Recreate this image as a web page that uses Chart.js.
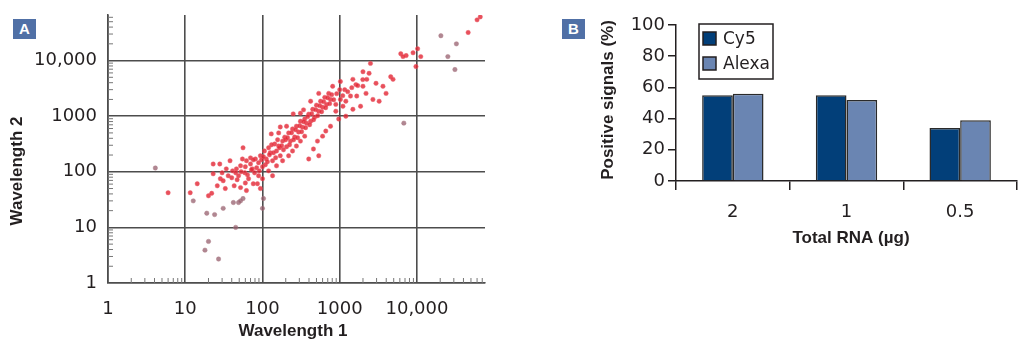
<!DOCTYPE html>
<html>
<head>
<meta charset="utf-8">
<script src="https://cdn.jsdelivr.net/npm/chart.js@4.4.1/dist/chart.umd.min.js"></script>
<style>
    body { margin: 0; background: #fff; width: 1018px; height: 344px; position: relative; overflow: hidden; }
    #chartA { position: absolute; left: 0; top: 0; }
    #chartB { position: absolute; left: 540px; top: 0; }
    .badge { position: absolute; top: 19px; width: 23px; height: 20px; background: #5070a6; color: #fff;
             font: bold 15px "Liberation Sans", sans-serif; text-align: center; line-height: 20px; }
</style>
</head>
<body>
<canvas id="chartA" width="530" height="344"></canvas>
<canvas id="chartB" width="478" height="344"></canvas>
<div class="badge" style="left:13px">A</div>
<div class="badge" style="left:562px">B</div>
<script>
// Panel A - scatter, log/log
const logTickValues = [1, 10, 100, 1000, 10000];
const logTickLabels = ['1', '10', '100', '1000', '10,000'];

const wavelength1 = [
    41, 46, 52, 49, 59, 62, 70, 74, 66, 81, 89, 94, 100, 106, 112, 120, 126, 135, 144, 152, 162, 170, 182, 194,
    205, 218, 230, 245, 261, 275, 293, 310, 330, 352, 372, 397, 420, 447, 473, 500, 535, 565, 600, 640, 676, 720, 760,
    2500, 2400, 2240, 2000, 1620, 1380, 1200, 1020, 890, 1160, 1660, 2190, 2950, 4570, 3630, 3980, 3240, 2690, 1860,
    1480, 1200, 970, 760, 660, 515, 600, 890, 1100, 457, 535, 397,
    6170, 7240, 8900, 10200, 6600, 11200, 9700, 4900, 60000, 66000, 46000,
    36, 38, 34, 30, 55, 79, 89, 60, 43, 100, 120, 135, 152, 182, 218, 245, 275, 310, 352, 205, 162, 310, 420, 535,
    810, 1020, 1480, 2000,
    23, 28, 23, 14.3, 20, 22, 26, 28.5, 31, 33, 45, 70, 86, 94, 56, 62, 76, 130, 170, 250, 340, 52, 11.6, 6,
    40, 47, 53, 60, 64, 72, 76, 84, 91, 97, 103, 109, 116, 123, 131, 139, 148, 157, 166, 177, 187, 199, 211, 224,
    238, 253, 268, 285, 303, 321, 341, 362, 384, 408, 433, 459, 488, 518, 550, 583, 619, 658, 698, 741, 787, 836,
    914, 1000, 1094, 1270, 1432, 1714, 1990
];
const wavelength2 = [
    104, 113, 128, 85, 96, 158, 138, 113, 75, 170, 145, 194, 123, 237, 170, 270, 220, 158, 316, 237, 290, 194, 356, 420,
    282, 500, 356, 590, 422, 660, 520, 810, 635, 890, 750, 1090, 810, 1330, 960, 1580, 1230, 1860, 1450, 2180, 1630, 2570, 2000,
    8900, 5900, 4600, 3450, 3700, 2300, 1860, 2000, 1630, 3000, 2300, 2570, 3900, 5130, 3450, 2570, 1860, 2000, 1510,
    1330, 1000, 890, 660, 540, 356, 437, 1230, 1510, 257, 194, 170,
    13300, 12300, 13800, 16300, 11800, 11800, 7800, 4600, 54000, 61000, 32000,
    85, 158, 113, 96, 170, 96, 85, 63, 56, 75, 104, 85, 128, 158, 194, 237, 290, 356, 437, 660, 500, 1130, 1860, 2570,
    3450, 4200, 4600, 6300,
    138, 138, 92, 61, 37, 41, 56, 75, 69, 50, 96, 178, 61, 50, 270, 46, 61, 480, 640, 1100, 1300, 52, 42, 42,
    78, 72, 100, 123, 88, 109, 164, 118, 104, 164, 186, 134, 151, 202, 306, 220, 179, 377, 271, 294, 249, 377, 410, 306,
    504, 377, 571, 410, 674, 526, 796, 621, 980, 703, 1110, 865, 1310, 1020, 1545, 1205, 1825, 1420, 2150, 1680, 2440, 1980,
    2540, 3000, 2340, 2760, 3260, 3550, 4550
];
// weaker, greyish spots
const weak1 = [4.1, 18, 20, 27, 19, 24, 45, 12.7, 31, 42, 49, 56, 52, 103, 100, 6760, 20400, 32400, 25100, 31000];
const weak2 = [117, 3.9, 5.6, 2.7, 18, 17, 10, 30, 22, 28, 28, 33, 30, 33, 22, 750, 28000, 20000, 11800, 6900];

// Panel B - bars
const rnaAmounts = ['2', '1', '0.5'];
const cy5Values = [55, 55, 34];
const alexaValues = [56, 52, 39];

const textColor = '#231f20';
const gridColor = '#4d4d4d';

const axisTitles = {
    id: 'axisTitles',
    afterDraw(chart, args, opts) {
        const ctx = chart.ctx;
        for (const t of opts.items || []) {
            ctx.save();
            ctx.translate(t.x, t.y);
            if (t.rotate) ctx.rotate(-Math.PI / 2);
            ctx.font = 'bold 17px "Liberation Sans", sans-serif';
            ctx.fillStyle = textColor;
            ctx.textAlign = 'center';
            ctx.textBaseline = 'middle';
            ctx.fillText(t.text, 0, 0);
            ctx.restore();
        }
    }
};

// short inside ticks between the decades
const minorTicks = {
    id: 'minorTicks',
    beforeDatasetsDraw(chart) {
        const { ctx, chartArea, scales: { x, y } } = chart;
        ctx.save();
        ctx.strokeStyle = '#777';
        ctx.lineWidth = 1;
        ctx.beginPath();
        for (const d of logTickValues) {
            for (let m = 2; m < 10; m++) {
                const v = d * m;
                if (v < x.max) {
                    const px = x.getPixelForValue(v);
                    ctx.moveTo(px, chartArea.bottom);
                    ctx.lineTo(px, chartArea.bottom - 5);
                }
                if (v < y.max) {
                    const py = y.getPixelForValue(v);
                    ctx.moveTo(chartArea.left, py);
                    ctx.lineTo(chartArea.left + 5, py);
                }
            }
        }
        ctx.stroke();
        ctx.restore();
    }
};

const boxLegend = {
    id: 'boxLegend',
    afterDraw(chart, args, o) {
        const ctx = chart.ctx;
        ctx.save();
        ctx.fillStyle = '#fff';
        ctx.fillRect(o.x, o.y, o.w, o.h);
        ctx.strokeStyle = textColor;
        ctx.lineWidth = 1.5;
        ctx.strokeRect(o.x, o.y, o.w, o.h);
        chart.data.datasets.forEach((ds, i) => {
            const cy = o.y + 14.5 + i * 25;
            ctx.fillStyle = ds.backgroundColor;
            ctx.fillRect(o.x + 4, cy - 6.5, 13, 13);
            ctx.strokeRect(o.x + 4, cy - 6.5, 13, 13);
            ctx.fillStyle = textColor;
            ctx.font = '17px "DejaVu Sans", sans-serif';
            ctx.textBaseline = 'middle';
            ctx.fillText(ds.label, o.x + 24, cy + 1);
        });
        ctx.restore();
    }
};

const tickFont = { family: '"DejaVu Sans", sans-serif', size: 18 };

function logAxis(pos, max, fitFn) {
    const horizontal = pos === 'bottom';
    return {
        type: 'logarithmic',
        position: pos,
        min: 1,
        max: max,
        afterBuildTicks: s => { s.ticks = logTickValues.map(v => ({ value: v })); },
        afterFit: fitFn,
        ticks: {
            callback: (v, i) => logTickLabels[i],
            color: textColor,
            font: tickFont,
            padding: horizontal ? 16 : 1,
            autoSkip: false,
            maxRotation: 0
        },
        // invisible tick marks only push the labels away from the axis
        grid: { color: gridColor, lineWidth: 1.6, drawTicks: !horizontal, tickLength: 10, tickColor: 'rgba(0,0,0,0)' },
        border: { color: gridColor, width: 1.6 }
    };
}

new Chart(document.getElementById('chartA'), {
    type: 'scatter',
    data: {
        datasets: [
            {
                label: 'spots',
                data: wavelength1.map((v, i) => ({ x: v, y: wavelength2[i] })),
                backgroundColor: 'rgba(226, 36, 50, 0.8)',
                borderColor: 'rgba(235, 90, 105, 0.45)',
                borderWidth: 1,
                pointRadius: 2.2
            },
            {
                label: 'weak',
                data: weak1.map((v, i) => ({ x: v, y: weak2[i] })),
                backgroundColor: 'rgba(150, 95, 110, 0.75)',
                borderColor: 'rgba(170, 120, 130, 0.45)',
                borderWidth: 1,
                pointRadius: 2.2
            }
        ]
    },
    options: {
        responsive: false,
        animation: false,
        layout: { padding: { top: 15, right: 45, left: 0, bottom: 0 } },
        scales: {
            x: logAxis('bottom', 76000, s => { s.height = 61; }),
            y: logAxis('left', 66000, s => { s.width = 108; })
        },
        plugins: {
            legend: { display: false },
            tooltip: { enabled: false },
            axisTitles: { items: [
                { text: 'Wavelength 2', x: 17, y: 171, rotate: true },
                { text: 'Wavelength 1', x: 293, y: 331 }
            ] }
        }
    },
    plugins: [minorTicks, axisTitles]
});

new Chart(document.getElementById('chartB'), {
    type: 'bar',
    data: {
        labels: rnaAmounts,
        datasets: [
            { label: 'Cy5', data: cy5Values, backgroundColor: '#023f79', borderColor: '#2a2a2a', borderWidth: 1.5 },
            { label: 'Alexa', data: alexaValues, backgroundColor: '#6a85b2', borderColor: '#2a2a2a', borderWidth: 1.5 }
        ]
    },
    options: {
        responsive: false,
        animation: false,
        layout: { padding: { top: 25, right: 1, left: 0, bottom: 0 } },
        datasets: { bar: { categoryPercentage: 0.54, barPercentage: 1.0 } },
        scales: {
            x: {
                afterFit: s => { s.height = 163; },
                ticks: { color: textColor, font: tickFont, padding: 12 },
                grid: { offset: true, drawOnChartArea: false, tickLength: 9, color: textColor, lineWidth: 1.5 },
                border: { color: textColor, width: 1.5 }
            },
            y: {
                min: 0,
                max: 100,
                afterFit: s => { s.width = 136; },
                ticks: { stepSize: 20, color: textColor, font: tickFont, padding: 3 },
                grid: { drawOnChartArea: false, tickLength: 8, color: textColor, lineWidth: 1.5 },
                border: { color: textColor, width: 1.5 }
            }
        },
        plugins: {
            legend: { display: false },
            tooltip: { enabled: false },
            boxLegend: { x: 159, y: 24, w: 74, h: 55 },
            axisTitles: { items: [
                { text: 'Positive signals (%)', x: 68, y: 100, rotate: true },
                { text: 'Total RNA (\u00b5g)', x: 311, y: 238 }
            ] }
        }
    },
    plugins: [boxLegend, axisTitles]
});
</script>
</body>
</html>
